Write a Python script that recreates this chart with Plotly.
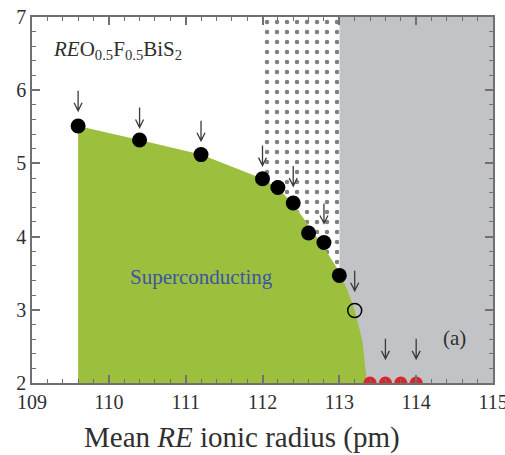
import plotly.graph_objects as go

# Superconducting samples: mean RE ionic radius (pm) vs Tc (K)
radius_sc = [109.6, 110.4, 111.2, 112.0, 112.2, 112.4, 112.6, 112.8, 113.0]
tc_sc = [5.51, 5.32, 5.12, 4.79, 4.67, 4.46, 4.05, 3.92, 3.47]

# Sample with an ambiguous transition (open symbol)
radius_open = [113.2]
tc_open = [2.99]

# Samples without a transition above 2 K
radius_nonsc = [113.4, 113.6, 113.8, 114.0]
tc_nonsc = [2.0, 2.0, 2.0, 2.0]

# Arrows marking the measured compositions (x, tip height)
arrow_x = [109.6, 110.4, 111.2, 112.0, 112.4, 112.8, 113.2, 113.6, 114.0]
arrow_tip = [5.72, 5.49, 5.31, 4.97, 4.69, 4.18, 3.26, 2.33, 2.33]

# Phase boundary of the superconducting dome
boundary_x = [109.6, 109.6, 110.4, 111.2, 112.0, 112.2, 112.4, 112.6, 112.8,
              113.0, 113.1, 113.2, 113.3, 113.36]
boundary_y = [2.0, 5.51, 5.32, 5.12, 4.79, 4.66, 4.45, 4.15, 3.85,
              3.52, 3.28, 2.99, 2.58, 2.0]

# Regions of the phase diagram
mixed_range = [112.0, 113.0]     # dotted region
nonsc_range = [113.0, 115.0]     # grey region
x_range = [109, 115]
y_range = [2, 7]
x_ticks = [109, 110, 111, 112, 113, 114, 115]
y_ticks = [2, 3, 4, 5, 6, 7]

SERIF = "Liberation Serif"
TEXT = "#2f2f2f"
AXIS = "#707070"

fig = go.Figure()

# grey non-superconducting region
fig.add_trace(go.Scatter(
    x=[nonsc_range[0], nonsc_range[1], nonsc_range[1], nonsc_range[0]],
    y=[y_range[0], y_range[0], y_range[1], y_range[1]],
    fill="toself", fillcolor="#c2c3c6", mode="none",
    hoverinfo="skip", showlegend=False))

# dotted mixed region
fig.add_trace(go.Scatter(
    x=[mixed_range[0], mixed_range[1], mixed_range[1], mixed_range[0]],
    y=[y_range[0], y_range[0], y_range[1], y_range[1]],
    fill="toself", fillcolor="white", mode="none",
    fillpattern=dict(shape=".", bgcolor="white", fgcolor="black",
                     size=10, solidity=0.16),
    hoverinfo="skip", showlegend=False))

# green superconducting dome
fig.add_trace(go.Scatter(
    x=boundary_x, y=boundary_y, fill="toself", fillcolor="#9cbf3e",
    mode="none", hoverinfo="skip", showlegend=False))

# data points
fig.add_trace(go.Scatter(
    x=radius_sc, y=tc_sc, mode="markers",
    marker=dict(size=15, color="black"), showlegend=False))
fig.add_trace(go.Scatter(
    x=radius_open, y=tc_open, mode="markers",
    marker=dict(size=14, color="rgba(0,0,0,0)",
                line=dict(color="black", width=1.5)), showlegend=False))
fig.add_trace(go.Scatter(
    x=radius_nonsc, y=tc_nonsc, mode="markers",
    marker=dict(size=13, color="#d8262a"), showlegend=False))

# downward arrows (pixel-sized, anchored at each tip)
for ax_, ay_ in zip(arrow_x, arrow_tip):
    fig.add_shape(type="path", xref="x", yref="y",
                  xsizemode="pixel", ysizemode="pixel",
                  xanchor=ax_, yanchor=ay_,
                  path="M0,0 L0,20 M-4,8 L0,0 L4,8",
                  line=dict(color="#3a3a3a", width=1.3))

fig.add_annotation(x=109.25, y=6.55, xref="x", yref="y", xanchor="left",
                   text="<i>RE</i>O<sub>0.5</sub>F<sub>0.5</sub>BiS<sub>2</sub>",
                   showarrow=False, font=dict(family=SERIF, size=21, color=TEXT))
fig.add_annotation(x=111.21, y=3.45, xref="x", yref="y",
                   text="Superconducting", showarrow=False,
                   font=dict(family=SERIF, size=21, color="#3d55a6"))
fig.add_annotation(x=114.5, y=2.62, xref="x", yref="y",
                   text="(a)", showarrow=False,
                   font=dict(family=SERIF, size=21, color=TEXT))

# x-axis title
fig.add_annotation(x=0.456, y=-0.15, xref="paper", yref="paper",
                   xanchor="center", yanchor="middle",
                   text="Mean <i>RE</i> ionic radius (pm)", showarrow=False,
                   font=dict(family=SERIF, size=29, color=TEXT))

axis_common = dict(
    showline=True, linecolor=AXIS, linewidth=1.5, mirror="ticks",
    ticks="inside", ticklen=8, tickwidth=1.5, tickcolor=AXIS,
    showgrid=False, zeroline=False, automargin=False,
    tickfont=dict(family=SERIF, size=20, color=TEXT),
)

fig.update_xaxes(range=x_range, tickvals=x_ticks, **axis_common,
                 ticklabeloverflow="allow",
                 minor=dict(dtick=0.2, ticks="inside", ticklen=4,
                            tickwidth=1.2, tickcolor=AXIS, showgrid=False))
fig.update_yaxes(range=y_range, tickvals=y_ticks, **axis_common,
                 minor=dict(dtick=0.2, ticks="inside", ticklen=4,
                            tickwidth=1.2, tickcolor=AXIS, showgrid=False))

fig.update_layout(
    width=505, height=455,
    margin=dict(l=32, r=12, t=17, b=72),
    plot_bgcolor="white", paper_bgcolor="white",
    showlegend=False,
)

fig.write_html("out.html")
